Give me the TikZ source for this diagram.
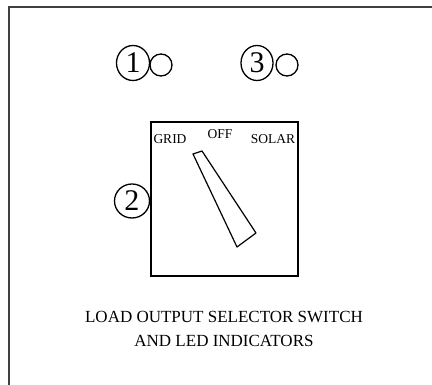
\documentclass[tikz,border=0pt]{standalone}
\usepackage{fontspec}
\setmainfont{Liberation Serif}
\usetikzlibrary{shapes.geometric}
\begin{document}
\begin{tikzpicture}[x=1pt,y=-1pt,
  numcirc/.style={ellipse,draw,line width=1.3pt,inner sep=0pt,font=\fontsize{30}{30}\selectfont},
  led/.style={circle,draw,line width=1.3pt,inner sep=0pt,minimum size=22pt},
  lbl/.style={font=\fontsize{13.5}{13.5}\selectfont,inner sep=0pt},
  caption/.style={font=\fontsize{17}{24}\selectfont,align=center,inner sep=0pt}]
\useasboundingbox (0,0) rectangle (432,385);
\fill[white] (0,0) rectangle (432,385);
\draw[line width=1.2pt,black!75] (9,390) -- (9,7) -- (440,7);
% LEDs
\node[numcirc,minimum width=33pt,minimum height=35pt] (n1) at (133,63) {1};
\node[led] (led1) at (161,65) {};
\node[numcirc,minimum width=32pt,minimum height=35pt] (n3) at (257,63) {3};
\node[led] (led3) at (287,65) {};
% switch
\node[draw,line width=1.1pt,minimum width=147pt,minimum height=154pt,inner sep=0pt] (box) at (224.5,199) {};
\node[numcirc,minimum width=35pt,minimum height=34pt] (n2) at (132,201) {2};
\node[lbl] (grid) at (170,139) {GRID};
\node[lbl] (off) at (220,134) {OFF};
\node[lbl] (solar) at (273,139) {SOLAR};
\draw[line width=1.2pt,line join=round] (193,154) -- (202,151) -- (256,233) -- (237,247) -- cycle;
\node[caption] (cap) at (224,329) {LOAD OUTPUT SELECTOR SWITCH\\AND LED INDICATORS};
\end{tikzpicture}
\end{document}
